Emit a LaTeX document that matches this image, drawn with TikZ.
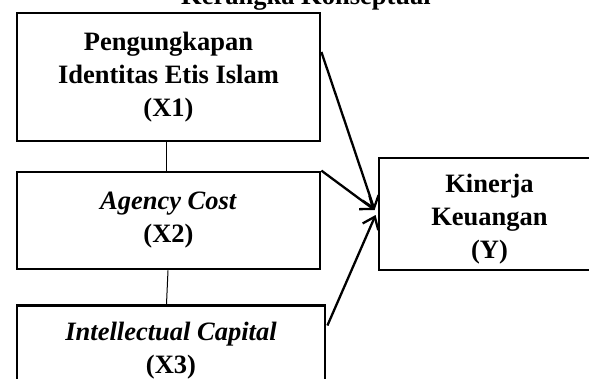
\documentclass[tikz,border=0pt]{standalone}
\usepackage{fontspec}
\setmainfont{Liberation Serif}
\usetikzlibrary{arrows.meta}

\tikzset{
  vartext/.style={align=center, font=\fontsize{26.5}{33}\selectfont\bfseries},
  varbox/.style={draw, rectangle, line width=2.8pt, inner sep=0pt, vartext},
  link/.style={line width=1pt},
  effect/.style={line width=2.3pt, -{Straight Barb[length=11pt,width=17pt]}},
}

\begin{document}
\begin{tikzpicture}[x=1pt,y=-1pt]
  \useasboundingbox (0,0) rectangle (589,378);
  %title, cut off at the top
  \node[vartext, anchor=base] (title) at (306,4) {Kerangka Konseptual};
  %independent variables
  \node[varbox, minimum width=303pt, minimum height=128pt] (x1) at (168.5,77)
       {Pengungkapan\\Identitas Etis Islam\\(X1)};
  \node[varbox, minimum width=303pt, minimum height=97pt] (x2) at (168.5,220.5)
       {\textit{Agency Cost}\\(X2)};
  \node[varbox, minimum width=308pt, minimum height=90pt] (x3) at (171,350.5)
       {\textit{Intellectual Capital}\\(X3)};
  %dependent variable
  \node[varbox, minimum width=221pt, minimum height=112pt] (y) at (489.5,214) {};
  \node[vartext] (ytext) at (489.5,219) {Kinerja\\Keuangan\\(Y)};

  \draw[link] ([xshift=-2pt]x1.south) -- ([xshift=-2pt]x2.north);
  \draw[link] ([xshift=-0.5pt]x2.south) -- ([xshift=-4.5pt]x3.north);

  \draw[effect] ([yshift=25pt]x1.east) -- ([xshift=-3pt,yshift=4pt]y.west);
  \draw[effect] (x2.north east) -- ([xshift=-3pt,yshift=4pt]y.west);
  \draw[effect] ([xshift=1pt,yshift=25pt]x3.east) -- ([xshift=-2pt,yshift=-1pt]y.west);
\end{tikzpicture}
\end{document}
